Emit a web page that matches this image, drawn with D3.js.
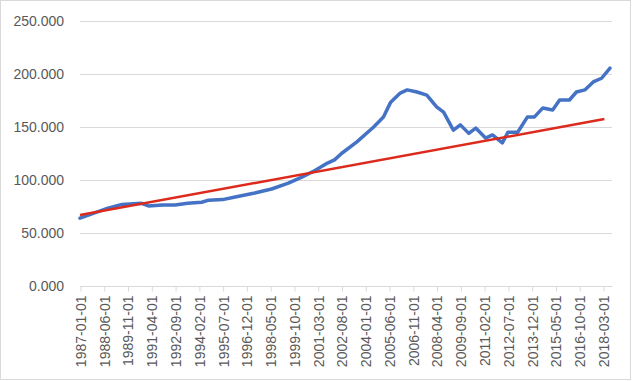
<!DOCTYPE html>
<html>
<head>
<meta charset="utf-8">
<script src="https://cdn.jsdelivr.net/npm/d3@7"></script>
<style>
  body { margin: 0; background: #fff; }
  text { font-family: "Liberation Sans", Arial, sans-serif; fill: #595959; }
</style>
</head>
<body>
<script>
// canvas size
var width = 632;
var height = 381;

const margin = {left: 80, right: 29, top: 21, bottom: 95};

// index series (month, value)
var months = ["1987-01", "1988-09", "1989-07", "1990-09", "1991-02", "1991-12", "1992-09",
  "1993-06", "1994-04", "1994-09", "1995-07", "1996-04", "1997-06", "1998-06", "1999-06", "2000-04",
  "2001-01", "2001-10", "2002-03", "2002-08", "2003-07", "2004-07", "2005-02", "2005-07",
  "2006-02", "2006-07", "2007-02", "2007-09", "2008-04", "2008-09", "2009-04", "2009-09",
  "2010-03", "2010-08", "2011-03", "2011-08", "2012-03", "2012-07", "2013-02", "2013-09",
  "2014-02", "2014-08", "2015-03", "2015-08", "2016-03", "2016-08", "2017-02", "2017-08",
  "2018-02", "2018-08"];
var values = [64, 73.5, 77, 78, 75.5, 76.5, 76.5,
  78, 79, 81, 81.5, 84, 87.7, 91.5, 97, 103,
  109, 116, 119, 125, 136, 150, 159.5, 173,
  182, 185, 183, 180, 169, 164, 147, 152,
  144, 149, 139.6, 142.5, 135, 145, 145, 159.5,
  159.5, 168, 166, 175.5, 175.5, 183, 185, 192.5,
  196, 205.6];

// linear trend end points
var trendMonths = ["1987-01", "2018-04"];
var trendValues = [67, 157.5];

// x tick labels
var tickLabels = ["1987-01-01", "1988-06-01", "1989-11-01", "1991-04-01", "1992-09-01",
  "1994-02-01", "1995-07-01", "1996-12-01", "1998-05-01", "1999-10-01", "2001-03-01",
  "2002-08-01", "2004-01-01", "2005-06-01", "2006-11-01", "2008-04-01", "2009-09-01",
  "2011-02-01", "2012-07-01", "2013-12-01", "2015-05-01", "2016-10-01", "2018-03-01"];
var yTicks = [0, 50, 100, 150, 200, 250];

// month index from 1987-01
function monthIndex(s) {
  var p = s.split("-");
  return (+p[0] - 1987) * 12 + (+p[1] - 1);
}

var svg = d3.select("body")
  .append("svg")
  .attr("width", width)
  .attr("height", height);

// outer border
svg.append("rect")
  .attr("x", 0.5).attr("y", 0.5)
  .attr("width", width - 2).attr("height", height - 2)
  .attr("fill", "#fff")
  .attr("stroke", "#d9d9d9");

var xScale = d3.scaleLinear()
  .domain([0, monthIndex("2018-03")])
  .range([margin.left, 603]);

var yScale = d3.scaleLinear()
  .domain([0, 250])
  .range([height - margin.bottom, margin.top]);

// gridlines
svg.append("g").selectAll("line")
  .data(yTicks)
  .enter()
  .append("line")
  .attr("x1", margin.left)
  .attr("x2", width - margin.right + 9)
  .attr("y1", d => yScale(d) + 0.5)
  .attr("y2", d => yScale(d) + 0.5)
  .attr("stroke", "#d9d9d9");

// y labels
svg.append("g").selectAll("text")
  .data(yTicks)
  .enter()
  .append("text")
  .attr("x", 64)
  .attr("y", d => yScale(d) + 5)
  .attr("text-anchor", "end")
  .style("font-size", "14px")
  .text(d => d3.format(".3f")(d));

// x axis
var xAxis = d3.axisBottom(xScale)
  .tickValues(tickLabels.map(d => monthIndex(d.slice(0, 7))))
  .tickSize(5)
  .tickFormat((d, i) => tickLabels[i]);

var gx = svg.append("g")
  .attr("transform", `translate(0.5,${yScale(0) + 0.5})`)
  .call(xAxis);
gx.select(".domain").attr("stroke", "#d9d9d9").attr("d", `M${margin.left - 0.5},0H${width - margin.right + 9}`);
gx.selectAll(".tick line").attr("stroke", "#d9d9d9");
gx.selectAll(".tick text")
  .style("font-size", "14px")
  .style("fill", "#595959")
  .attr("transform", "rotate(-90)")
  .attr("text-anchor", "end")
  .attr("x", -9)
  .attr("y", 0)
  .attr("dy", "0.35em");

// series
var line = d3.line()
  .x(d => xScale(monthIndex(d[0])))
  .y(d => yScale(d[1]));

svg.append("path")
  .datum(d3.zip(months, values))
  .attr("d", line)
  .attr("fill", "none")
  .attr("stroke", "#4472c4")
  .attr("stroke-width", 3.5)
  .attr("stroke-linejoin", "round")
  .attr("stroke-linecap", "round");

svg.append("path")
  .datum(d3.zip(trendMonths, trendValues))
  .attr("d", d3.line().x(d => xScale(monthIndex(d[0]))).y(d => yScale(d[1])))
  .attr("fill", "none")
  .attr("stroke", "#dc2a1c")
  .attr("stroke-width", 2.5);
</script>
</body>
</html>
